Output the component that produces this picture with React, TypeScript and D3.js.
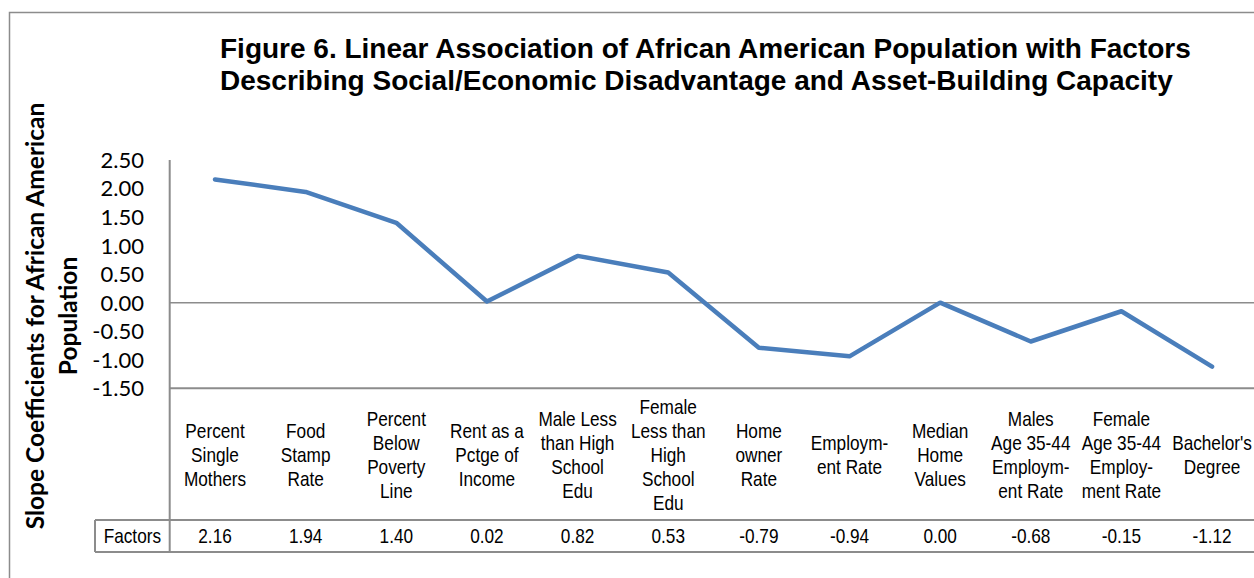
import React from "react";
import * as d3 from "d3";

const categories: string[][] = [
  ["Percent", "Single", "Mothers"],
  ["Food", "Stamp", "Rate"],
  ["Percent", "Below", "Poverty", "Line"],
  ["Rent as a", "Pctge of", "Income"],
  ["Male Less", "than High", "School", "Edu"],
  ["Female", "Less than", "High", "School", "Edu"],
  ["Home", "owner", "Rate"],
  ["Employm-", "ent Rate"],
  ["Median", "Home", "Values"],
  ["Males", "Age 35-44", "Employm-", "ent Rate"],
  ["Female", "Age 35-44", "Employ-", "ment Rate"],
  ["Bachelor's", "Degree"],
];
const values: number[] = [2.16, 1.94, 1.4, 0.02, 0.82, 0.53, -0.79, -0.94, 0.0, -0.68, -0.15, -1.12];
const yTicks: number[] = [2.5, 2.0, 1.5, 1.0, 0.5, 0.0, -0.5, -1.0, -1.5];
const seriesName = "Factors";
const titleLines = [
  "Figure 6. Linear Association of African American Population with Factors",
  "Describing Social/Economic Disadvantage and Asset-Building Capacity",
];
const yTitleLines = ["Slope Coefficients for African American", "Population"];

const W = 1254;
const H = 578;
const GRID = "#8c8c8c";
const LINE = "#4a7ebb";
const arial = "'Liberation Sans', Arial, sans-serif";
const calib = "Lato, 'Open Sans', sans-serif";
const fmt = (v: number) => d3.format(".2f")(v).replace("\u2212", "-");
const SX = 0.82;

function NarrowText(props: { x: number; y: number; lines: string[]; lh: number; size: number }) {
  const { x, y, lines, lh, size } = props;
  return (
    <g transform={`translate(${x},0) scale(${SX},1)`}>
      <text textAnchor="middle" fontFamily={arial} fontSize={size} fill="#000">
        {lines.map((l, j) => (
          <tspan key={j} x={0} y={y + (j - (lines.length - 1) / 2) * lh} dy="0.35em">
            {l}
          </tspan>
        ))}
      </text>
    </g>
  );
}

export default function App() {
  const idx = categories.map((_, i) => String(i));
  const x = d3.scaleBand<string>().domain(idx).range([169.7, 169.7 + 12 * 90.64]);
  const y = d3.scaleLinear().domain([-1.5, 2.5]).range([388.3, 160]);
  const tableTop = y(-1.5);
  const rowTop = 520;
  const rowBot = 552;
  const headerMid = (tableTop + rowTop) / 2 + 1;
  const cx = (i: number) => (x(String(i)) as number) + x.bandwidth() / 2;
  const line = d3
    .line<number>()
    .x((_, i) => cx(i))
    .y((d) => y(d));
  const x0 = x.range()[0];
  const lh = 24;

  return (
    <svg width={W} height={H} style={{ position: "absolute", left: 0, top: 0, background: "#fff" }}>
      <rect x={0} y={0} width={W} height={H} fill="#fff" />
      {/* chart border */}
      <path d={`M9.5,${H + 5} V12.5 H${W + 5}`} fill="none" stroke={GRID} strokeWidth={1.5} />
      {/* title */}
      {titleLines.map((t, i) => (
        <text key={i} x={220} y={58 + i * 31.5} fontFamily={arial} fontWeight="bold" fontSize={28} fill="#000">
          {t}
        </text>
      ))}
      {/* y title */}
      <g transform="translate(0,316)">
        {yTitleLines.map((t, i) => (
          <text
            key={i}
            transform={`translate(${44 + i * 33},0) rotate(-90)`}
            textAnchor="middle"
            fontFamily={calib}
            fontWeight="bold"
            fontSize={24.5}
            fill="#000"
          >
            {t}
          </text>
        ))}
      </g>
      {/* y tick labels */}
      {yTicks.map((t) => (
        <text key={t} x={144} y={y(t)} dy="0.36em" textAnchor="end" fontFamily={calib} fontSize={22} fill="#000">
          {fmt(t)}
        </text>
      ))}
      {/* zero line and table lines */}
      <line x1={x0} x2={W + 5} y1={y(0)} y2={y(0)} stroke={GRID} strokeWidth={1.5} />
      <line x1={x0} x2={W + 5} y1={tableTop} y2={tableTop} stroke={GRID} strokeWidth={2} />
      <line x1={95} x2={W + 5} y1={rowTop} y2={rowTop} stroke={GRID} strokeWidth={2} />
      <line x1={95} x2={W + 5} y1={rowBot} y2={rowBot} stroke={GRID} strokeWidth={2} />
      <line x1={95} x2={95} y1={rowTop} y2={rowBot} stroke={GRID} strokeWidth={2} />
      <line x1={x0} x2={x0} y1={y(2.5)} y2={rowBot} stroke={GRID} strokeWidth={2} />
      {/* category labels */}
      {categories.map((lines, i) => (
        <NarrowText key={i} x={cx(i)} y={headerMid} lines={lines} lh={lh} size={21} />
      ))}
      {/* values row */}
      <NarrowText x={(95 + x0) / 2} y={(rowTop + rowBot) / 2} lines={[seriesName]} lh={lh} size={21} />
      {values.map((v, i) => (
        <NarrowText key={i} x={cx(i)} y={(rowTop + rowBot) / 2} lines={[fmt(v)]} lh={lh} size={21} />
      ))}
      {/* series line */}
      <path d={line(values) || ""} fill="none" stroke={LINE} strokeWidth={4.5} strokeLinecap="round" strokeLinejoin="round" />
    </svg>
  );
}
